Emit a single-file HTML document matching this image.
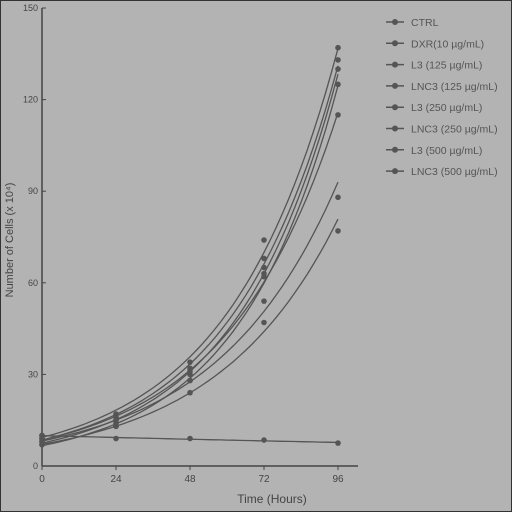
<!DOCTYPE html>
<html><head><meta charset="utf-8"><style>
body{margin:0;background:#b3b3b3;}
svg{display:block;font-family:"Liberation Sans",sans-serif;}
</style></head><body>
<svg width="512" height="512" viewBox="0 0 512 512">
<rect x="0" y="0" width="512" height="512" fill="#b3b3b3" stroke="#333" stroke-width="2"/>
<g id="axes"></g><g id="series"></g><g id="legend"></g>
<text x="272" y="503" font-size="12" text-anchor="middle" fill="#444">Time (Hours)</text>
<text transform="translate(13,240) rotate(-90)" font-size="11" text-anchor="middle" fill="#444">Number of Cells (x 10⁴)</text>
</svg>
<script>
const times=[0,24,48,72,96];
const xTicks=["0","24","48","72","96"];
const yTicks=[0,30,60,90,120,150];
const seriesNames=["CTRL","DXR(10 µg/mL)","L3 (125 µg/mL)","LNC3 (125 µg/mL)","L3 (250 µg/mL)","LNC3 (250 µg/mL)","L3 (500 µg/mL)","LNC3 (500 µg/mL)"];
const ctrl=[10,17,34,74,137];
const dxr=[10,9,9,8.5,7.5];
const l3_125=[9,16,32,68,133];
const lnc_125=[8,14,30,65,130];
const l3_250=[7,13,28,62,125];
const lnc_250=[8,15,28,54,88];
const l3_500=[9,15,31,63,115];
const lnc_500=[7,13,24,47,77];
const allSeries=[ctrl,dxr,l3_125,lnc_125,l3_250,lnc_250,l3_500,lnc_500];
const NS="http://www.w3.org/2000/svg";
const X=t=>42+t*(296/96);
const Y=v=>466-v*(458/150);
function mk(tag,attrs,parent){const e=document.createElementNS(NS,tag);for(const k in attrs)e.setAttribute(k,attrs[k]);parent.appendChild(e);return e;}
const ax=document.getElementById('axes');
let e=mk('line',{x1:42,y1:8,x2:42,y2:466,stroke:'#444','stroke-width':1.5},ax);


e=mk('line',{x1:42,y1:466,x2:358,y2:466,stroke:'#444','stroke-width':1.5},ax);


yTicks.forEach(v=>{mk('line',{x1:42,y1:Y(v),x2:46,y2:Y(v),stroke:'#444'},ax);
const t=mk('text',{x:38,y:Y(v)+3,'font-size':9,'text-anchor':'end',fill:'#444'},ax);t.textContent=v;

});
times.forEach((tm,i)=>{mk('line',{x1:X(tm),y1:466,x2:X(tm),y2:470,stroke:'#444'},ax);
const t=mk('text',{x:X(tm),y:482,'font-size':10,'text-anchor':'middle',fill:'#444'},ax);t.textContent=xTicks[i];

});
const sg=document.getElementById('series');
function expFit(vals){const n=vals.length;let sx=0,sy=0,sxx=0,sxy=0;
 vals.forEach((v,i)=>{const x=times[i],y=Math.log(v);sx+=x;sy+=y;sxx+=x*x;sxy+=x*y;});
 const b=(n*sxy-sx*sy)/(n*sxx-sx*sx);const a=(sy-b*sx)/n;return t=>Math.exp(a+b*t);}
allSeries.forEach((vals,si)=>{
 const f=expFit(vals);
 let d='';
 for(let t=0;t<=96;t+=2){d+=(t?' L':'M')+X(t).toFixed(1)+','+Y(f(t)).toFixed(1);}
 const path=mk('path',{d:d,fill:'none',stroke:'#555','stroke-width':1.3},sg);
 
 
 vals.forEach((v,i)=>{const c=mk('circle',{cx:X(times[i]),cy:Y(v),r:2.8,fill:'#555'},sg);
 
 });
});
const lg=document.getElementById('legend');
seriesNames.forEach((n,i)=>{const y=22+i*21.3;
 mk('line',{x1:386,y1:y,x2:404,y2:y,stroke:'#555','stroke-width':1.5},lg);
 mk('circle',{cx:395,cy:y,r:3,fill:'#555'},lg);
 const t=mk('text',{x:411,y:y+4,'font-size':10.5,fill:'#555'},lg);t.textContent=n;
 
 });
</script>
</body></html>
